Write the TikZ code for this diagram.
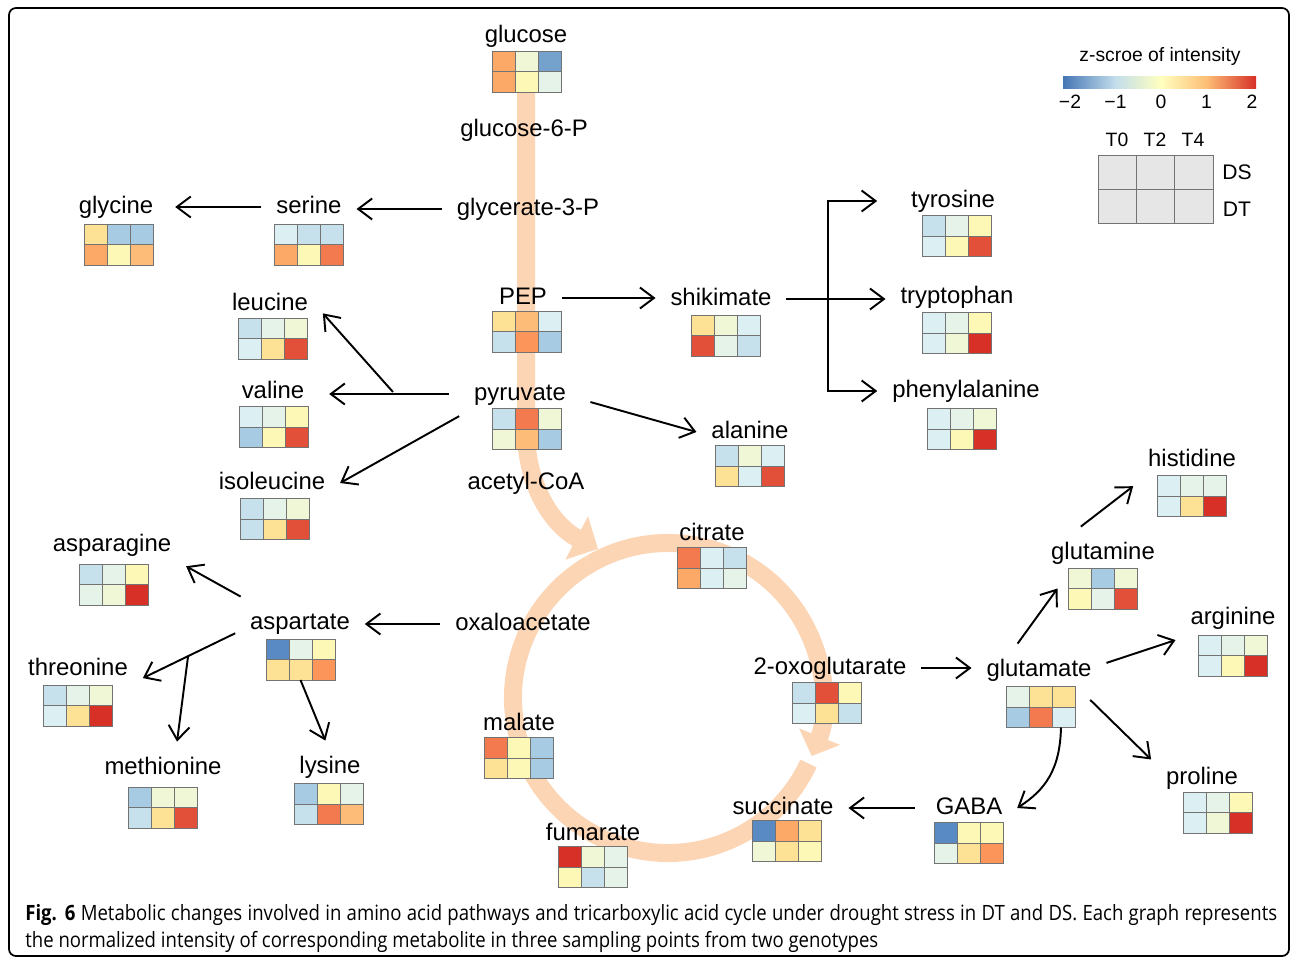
\documentclass[tikz,border=0pt]{standalone}
\usepackage{fontspec}
\setmainfont{Liberation Sans}
\newfontfamily\capfont[FakeStretch=0.88]{Open Sans}
\usetikzlibrary{arrows.meta,calc}

% heat colours (blue - yellow - red)
\definecolor{hb5}{HTML}{5A8AC4}
\definecolor{hb4}{HTML}{74A2CC}
\definecolor{hb3}{HTML}{A6CBE2}
\definecolor{hb2}{HTML}{C6E1EC}
\definecolor{hb1}{HTML}{DCEFF3}
\definecolor{hg}{HTML}{E5F3E8}
\definecolor{hy0}{HTML}{F0F7D6}
\definecolor{hy1}{HTML}{FDF8B6}
\definecolor{hy2}{HTML}{FDE296}
\definecolor{ho1}{HTML}{FDBD79}
\definecolor{ho2}{HTML}{FCA968}
\definecolor{ho3}{HTML}{FB955A}
\definecolor{hr1}{HTML}{F37A4E}
\definecolor{hr2}{HTML}{E3503A}
\definecolor{hr3}{HTML}{D73027}
\definecolor{bandc}{HTML}{FCD5B5}
\definecolor{keygray}{HTML}{E6E6E7}
\definecolor{sc1}{HTML}{4575B4}
\definecolor{sc2}{HTML}{C3DEEC}
\definecolor{sc3}{HTML}{FFFFBF}
\definecolor{sc4}{HTML}{FDBE76}
\definecolor{sc5}{HTML}{D73027}

\tikzset{
  lbl/.style={font=\fontsize{13.6}{16}\selectfont, inner sep=0pt, outer sep=0.3cm, text height=10pt, text depth=3pt, yshift=-0.04cm},
  hm/.style={minimum width=1.38cm, minimum height=0.82cm, inner sep=0pt, outer sep=0pt},
  cell/.style={draw=black!55, line width=0.5pt},
  arr/.style={-{Straight Barb[length=0.28cm,width=0.42cm]}, line width=1.1pt},
  band/.style={draw=bandc, line width=0.36cm},
  keytxt/.style={font=\fontsize{11}{13}\selectfont, inner sep=0pt},
}

% heatmap: name, centre, DS row (T0,T2,T4), DT row (T0,T2,T4)
\newcommand{\hmap}[8]{%
  \node[hm] (#1) at (#2) {};
  \begin{scope}[shift={(#1.center)}]
    \filldraw[cell, fill=#3] (-34.5,-20.5) rectangle (-11.5,0);
    \filldraw[cell, fill=#4] (-11.5,-20.5) rectangle (11.5,0);
    \filldraw[cell, fill=#5] (11.5,-20.5) rectangle (34.5,0);
    \filldraw[cell, fill=#6] (-34.5,0) rectangle (-11.5,20.5);
    \filldraw[cell, fill=#7] (-11.5,0) rectangle (11.5,20.5);
    \filldraw[cell, fill=#8] (11.5,0) rectangle (34.5,20.5);
  \end{scope}}

\begin{document}
\begin{tikzpicture}[x=0.02cm, y=-0.02cm]
\useasboundingbox (0,0) rectangle (1292,960);
\draw[line width=1pt, rounded corners=0.14cm] (9,8) rectangle (1289,956);

% glycolysis flux and TCA cycle
\coordinate (cc) at (668,698);
\draw[band, -{Triangle[length=0.48cm,width=0.95cm]}] (526,72) -- (526,430) .. controls (526,485) and (552,525) .. (598,549);
\draw[band] ($(cc)+(25:155)$) arc[start angle=25, end angle=240, radius=155];
\draw[band, -{Triangle[length=0.42cm,width=0.86cm]}] ($(cc)+(240:155)$) arc[start angle=240, end angle=382, radius=155];

% heatmaps
\hmap{glc-hm}{526.5,71.5}{ho2}{hy0}{hb4}{ho2}{hy1}{hg}
\hmap{ser-hm}{308.5,244.5}{hb1}{hb2}{hb2}{ho2}{hy1}{hr1}
\hmap{gly-hm}{118.5,244.5}{hy2}{hb3}{hb3}{ho2}{hy1}{ho1}
\hmap{pep-hm}{526.5,331.5}{hy2}{ho1}{hb1}{hb2}{ho3}{hb3}
\hmap{shk-hm}{725.5,335.5}{hy2}{hy0}{hb1}{hr2}{hg}{hb2}
\hmap{tyr-hm}{957,236}{hb2}{hg}{hy1}{hb1}{hy1}{hr2}
\hmap{trp-hm}{957,333}{hb1}{hg}{hy1}{hb1}{hy0}{hr3}
\hmap{phe-hm}{962,429}{hb1}{hg}{hy0}{hb1}{hy1}{hr3}
\hmap{pyr-hm}{526.5,429}{hb2}{hr1}{hy0}{hy0}{ho1}{hb3}
\hmap{ala-hm}{750,466}{hb2}{hy0}{hb1}{hy2}{hb1}{hr2}
\hmap{leu-hm}{272.5,338.5}{hb2}{hg}{hy0}{hb1}{hy2}{hr2}
\hmap{val-hm}{274,427}{hb1}{hg}{hy1}{hb3}{hy1}{hr2}
\hmap{ile-hm}{274.5,519}{hb2}{hg}{hy0}{hb2}{hy2}{hr2}
\hmap{cit-hm}{712,568}{hr1}{hb1}{hb2}{ho2}{hb1}{hg}
\hmap{oxo-hm}{827,703}{hb2}{hr2}{hy1}{hb1}{hy2}{hb2}
\hmap{mal-hm}{519,758}{hr1}{hy1}{hb3}{hy2}{hy1}{hb3}
\hmap{fum-hm}{593,867}{hr3}{hy0}{hg}{hy1}{hb2}{hg}
\hmap{suc-hm}{787,841}{hb5}{ho2}{hy2}{hy0}{hy2}{hy1}
\hmap{asp-hm}{300.5,659.5}{hb5}{hg}{hy1}{hy2}{hy2}{ho3}
\hmap{asn-hm}{113.5,584.5}{hb2}{hg}{hy1}{hg}{hy0}{hr3}
\hmap{thr-hm}{77.5,705.5}{hb2}{hg}{hy0}{hb1}{hy2}{hr3}
\hmap{met-hm}{162.5,807.5}{hb3}{hy0}{hy0}{hb2}{hy2}{hr2}
\hmap{lys-hm}{328.5,804}{hb3}{hy1}{hg}{hb2}{hr1}{ho1}
\hmap{glu-hm}{1040.5,707}{hg}{hy2}{hy2}{hb3}{hr1}{hb1}
\hmap{gln-hm}{1103,588.5}{hy0}{hb3}{hy0}{hy1}{hg}{hr2}
\hmap{his-hm}{1192,496}{hb1}{hg}{hg}{hb1}{hy2}{hr3}
\hmap{arg-hm}{1233,655.5}{hb1}{hg}{hy0}{hb1}{hy1}{hr3}
\hmap{pro-hm}{1217.5,812.5}{hb1}{hg}{hy1}{hb1}{hy0}{hr3}
\hmap{gab-hm}{969,843}{hb5}{hy1}{hy1}{hg}{hy2}{ho3}

% metabolites
\node[lbl] (glucose) at (526,34) {glucose};
\node[lbl] (g6p) at (524,128) {glucose-6-P};
\node[lbl] (g3p) at (528,207) {glycerate-3-P};
\node[lbl] (serine) at (309,205) {serine};
\node[lbl] (glycine) at (116,205) {glycine};
\node[lbl] (PEP) at (523,296) {PEP};
\node[lbl] (shikimate) at (721,297) {shikimate};
\node[lbl] (tyrosine) at (953,199) {tyrosine};
\node[lbl] (tryptophan) at (957,295) {tryptophan};
\node[lbl] (phenylalanine) at (966,389) {phenylalanine};
\node[lbl] (pyruvate) at (520,392) {pyruvate};
\node[lbl] (acetylCoA) at (526,481) {acetyl-CoA};
\node[lbl] (alanine) at (750,430) {alanine};
\node[lbl] (leucine) at (270,302) {leucine};
\node[lbl] (valine) at (273,390) {valine};
\node[lbl] (isoleucine) at (272,481) {isoleucine};
\node[lbl] (citrate) at (712,532) {citrate};
\node[lbl] (oxo) at (830,666) {2-oxoglutarate};
\node[lbl] (malate) at (519,722) {malate};
\node[lbl] (fumarate) at (593,832) {fumarate};
\node[lbl] (succinate) at (783,806) {succinate};
\node[lbl] (oxaloacetate) at (523,622) {oxaloacetate};
\node[lbl] (aspartate) at (300,621) {aspartate};
\node[lbl] (asparagine) at (112,543) {asparagine};
\node[lbl] (threonine) at (78,667) {threonine};
\node[lbl] (methionine) at (163,766) {methionine};
\node[lbl] (lysine) at (330,765) {lysine};
\node[lbl] (glutamate) at (1039,668) {glutamate};
\node[lbl] (glutamine) at (1103,551) {glutamine};
\node[lbl] (histidine) at (1192,458) {histidine};
\node[lbl] (arginine) at (1233,616) {arginine};
\node[lbl] (proline) at (1202,776) {proline};
\node[lbl] (GABA) at (969,806) {GABA};

% reactions
\draw[arr] (g3p.west) -- (serine.east |- g3p.west);
\draw[arr, shorten >=0.14cm] (serine.west) -- (glycine.east |- serine.west);
\draw[arr] (PEP.east) -- (shikimate.west |- PEP.east);
\draw[arr] (shikimate.east) -- (tryptophan.west |- shikimate.east);
\coordinate (br) at (828,295);
\draw[arr, shorten >=0.38cm] (br) |- (tyrosine.west);
\draw[arr] (br) |- (phenylalanine.west);
\draw[arr, shorten <=0.2cm, shorten >=0.2cm] (pyruvate.west) -- (valine.east |- pyruvate.west);
\coordinate (vb) at (393,392);
\draw[arr] (vb) -- (leucine.-10);
\draw[arr] (pyruvate.200) -- (isoleucine.east);
\draw[arr, shorten <=0.2cm] (pyruvate.-5) -- (alanine.west);
\draw[arr] (oxaloacetate.west) -- (aspartate.east |- oxaloacetate.west);
\draw[arr] (aspartate.156) -- (asparagine.-16);
\draw[arr] (aspartate.189) -- (threonine.-8);
\coordinate (tb) at ($(aspartate.189)!0.51!(threonine.-8)$);
\draw[arr] (tb) -- (methionine.62);
\draw[arr] (asp-hm.south) -- (lysine.100);
\draw[arr] (oxo.east) -- (glutamate.west |- oxo.east);
\draw[arr, shorten <=0.12cm] (GABA.west) -- (succinate.east |- GABA.west);
\draw[arr] (glutamate.129) -- ($(gln-hm.west)+(-11,0)$);
\draw[arr] (glutamine.130) -- (histidine.204);
\draw[arr] (glutamate.6) -- (arginine.201);
\draw[arr, shorten <=0.1cm] (glutamate.-29) -- (proline.160);
\draw[arr] (glu-hm.-45) .. controls (1060,770) and (1045,790) .. (GABA.east);

% legend
\node[keytxt] (ztitle) at (1160,57) {z-scroe of intensity};
\shade[left color=sc1, right color=sc2] (1063,76) rectangle (1115.5,88);
\shade[left color=sc2, right color=sc3] (1115.5,76) rectangle (1161,88);
\shade[left color=sc3, right color=sc4] (1161,76) rectangle (1206.5,88);
\shade[left color=sc4, right color=sc5] (1206.5,76) rectangle (1256,88);
\node[keytxt] (tm2) at (1070,102) {−2};
\node[keytxt] (tm1) at (1115.5,102) {−1};
\node[keytxt] (t0) at (1161,102) {0};
\node[keytxt] (tp1) at (1206.5,102) {1};
\node[keytxt] (tp2) at (1252,102) {2};
\foreach \c in {0,1,2}
  \foreach \r in {0,1}
    \filldraw[cell, fill=keygray] ({1098+38.33*\c},{155+34*\r}) rectangle ({1136.33+38.33*\c},{189+34*\r});
\node[keytxt] (kT0) at (1117,140) {T0};
\node[keytxt] (kT2) at (1155,140) {T2};
\node[keytxt] (kT4) at (1193,140) {T4};
\node[keytxt, font=\fontsize{12}{14}\selectfont] (kDS) at (1237,172) {DS};
\node[keytxt, font=\fontsize{12}{14}\selectfont] (kDT) at (1237,209) {DT};

% caption
\node[anchor=north west, inner sep=0pt, text width=25.04cm, align=justify, font=\capfont\fontsize{12}{15.4}\selectfont] (caption) at (25,904)
  {\textbf{Fig. 6} Metabolic changes involved in amino acid pathways and tricarboxylic acid cycle under drought stress in DT and DS. Each graph represents\linebreak the normalized intensity of corresponding metabolite in three sampling points from two genotypes};
\end{tikzpicture}
\end{document}
